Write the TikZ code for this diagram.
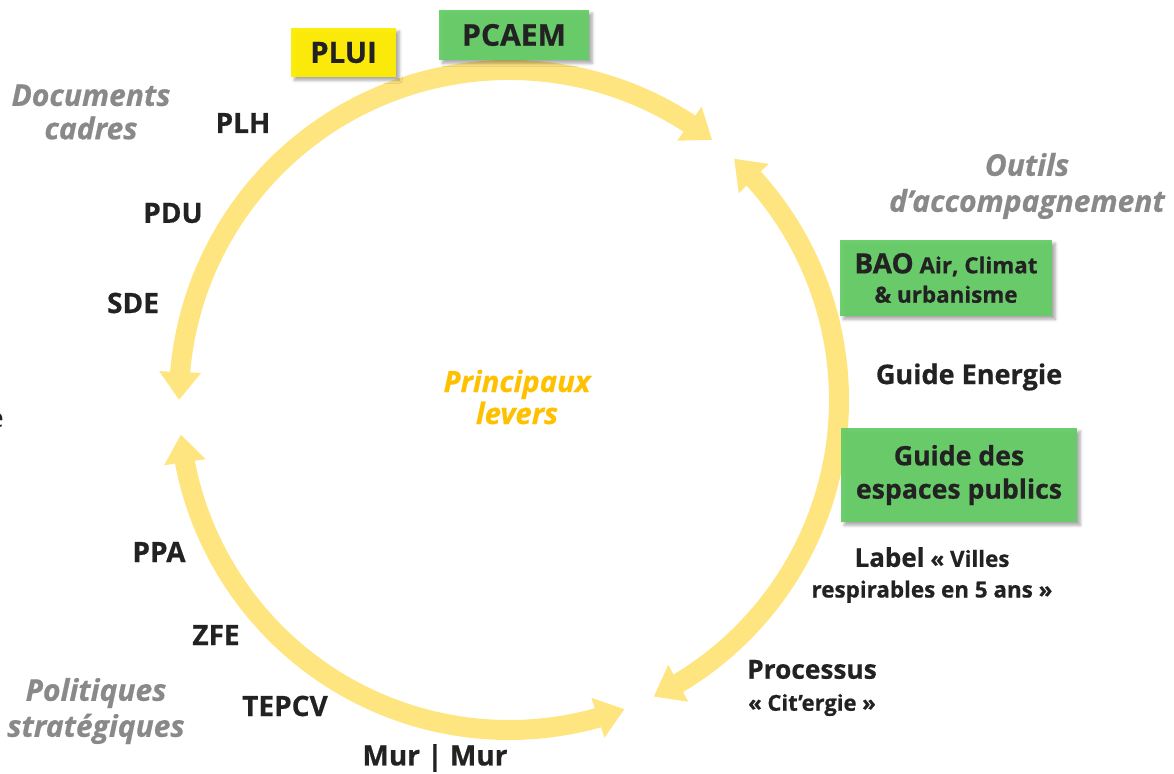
\documentclass[tikz,border=0pt]{standalone}
\usepackage{fontspec}
\setmainfont{Open Sans}[BoldFeatures={FakeBold=0.6}, BoldItalicFeatures={FakeBold=0.6}]
\usepackage{xcolor}
\usetikzlibrary{arrows.meta, bending, shadows.blur}

\definecolor{arcyellow}{RGB}{255,229,128}
\definecolor{boxgreen}{RGB}{102,204,102}
\definecolor{boxyellow}{RGB}{255,236,0}
\definecolor{textdark}{RGB}{34,34,34}
\definecolor{textgrey}{RGB}{137,137,137}
\definecolor{textgold}{RGB}{255,192,0}

\begin{document}
\begin{tikzpicture}[
    x=0.75pt, y=0.75pt,
    lever/.style={line width=15pt, draw=arcyellow,
      {Triangle[width=30pt,length=21pt]}-{Triangle[width=30pt,length=21pt]}},
    item/.style={text=textdark, align=center, font=\bfseries\fontsize{21}{25}\selectfont},
    family/.style={text=textgrey, align=center, font=\bfseries\itshape\fontsize{22.5}{25}\selectfont},
    tool/.style={item, fill=boxgreen, fill opacity=0.95, text opacity=1,
      blur shadow={shadow xshift=2.5pt, shadow yshift=-2.5pt, shadow blur steps=6, shadow opacity=35}},
    plan/.style={tool, fill=boxyellow}
]
  \useasboundingbox (0,0) rectangle (1174,-774);
  \coordinate (c) at (509,-400);

  % Cycle arcs
  \draw[lever] ([shift={(52:247.5pt)}]c) arc[start angle=52, end angle=180, radius=247.5pt];
  \draw[lever] ([shift={(186:247.5pt)}]c) arc[start angle=186, end angle=290.5, radius=247.5pt];
  \draw[lever] ([shift={(47:247.5pt)}]c) arc[start angle=47, end angle=-64, radius=247.5pt];

  % Boxes
  \node[plan, minimum width=78.75pt, minimum height=36.75pt,
        font=\bfseries\fontsize{22}{26}\selectfont] (plui) at (343.5,-52.5) {PLUI};
  \node[tool, minimum width=112.5pt, minimum height=37.5pt,
        font=\bfseries\fontsize{22.5}{26}\selectfont] (pcaem) at (514,-35) {PCAEM};
  \node[tool, minimum width=159pt, minimum height=57pt,
        font=\bfseries\fontsize{16.8}{22}\selectfont] (bao) at (946,-278)
        {{\fontsize{21}{22}\selectfont BAO} Air, Climat\\\& urbanisme};
  \node[tool, minimum width=177pt, minimum height=70.5pt,
        font=\bfseries\fontsize{20}{25}\selectfont] (espaces) at (959,-475)
        {Guide des\\espaces publics};

  % Family titles
  \node[family] (docs) at (91,-112) {Documents\\cadres};
  \node[family, font=\bfseries\itshape\fontsize{22.5}{27}\selectfont] (outils) at (1027,-186)
        {Outils\\d’accompagnement};
  \node[family, font=\bfseries\itshape\fontsize{22.5}{27}\selectfont] (politiques) at (96,-711)
        {Politiques\\stratégiques};
  \node[family, text=textgold, font=\bfseries\itshape\fontsize{22}{24}\selectfont] (levers)
        at (517,-397) {Principaux\\levers};
  \node[text=textdark, anchor=east, inner sep=0pt, font=\fontsize{20}{24}\selectfont] (cut)
        at (4,-420) {e};

  % Documents cadres
  \node[item] (plh) at (243,-123) {PLH};
  \node[item] (pdu) at (173,-213) {PDU};
  \node[item] (sde) at (133,-303) {SDE};

  % Politiques strategiques
  \node[item] (ppa)   at (159,-552) {PPA};
  \node[item] (zfe)   at (216,-635) {ZFE};
  \node[item] (tepcv) at (285,-706) {TEPCV};
  \node[item] (mur)   at (435,-758) {Mur | Mur};

  % Outils
  \node[item, font=\bfseries\fontsize{20.3}{22}\selectfont] (energie) at (969,-377) {Guide Energie};
  \node[item, font=\bfseries\fontsize{16.8}{23}\selectfont] (label) at (932,-575)
        {{\fontsize{19.5}{23}\selectfont Label} «~Villes\\respirables en 5 ans~»};
  \node[item, font=\bfseries\fontsize{16.5}{24}\selectfont] (citergie) at (812,-688)
        {{\fontsize{19.7}{24}\selectfont Processus}\\«~Cit’ergie~»};
\end{tikzpicture}
\end{document}
